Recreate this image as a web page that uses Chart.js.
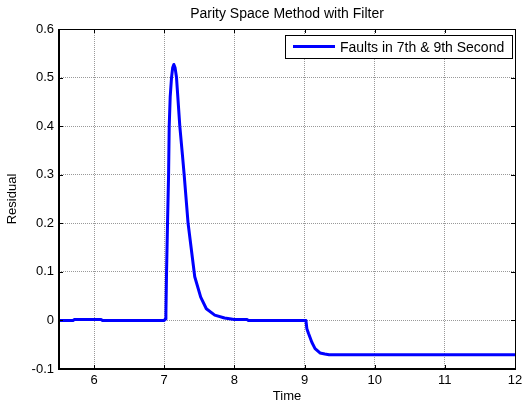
<!DOCTYPE html>
<html>
<head>
<meta charset="utf-8">
<title>Parity Space Method with Filter</title>
<script src="https://cdn.jsdelivr.net/npm/chart.js@4/dist/chart.umd.min.js"></script>
<style>
  body { margin: 0; background: #fff; }
  #wrap { width: 529px; height: 405px; }
</style>
</head>
<body>
<div id="wrap"><canvas id="residual-chart" width="529" height="405"></canvas></div>
<script>
// axis ticks
const xTicks = [6, 7, 8, 9, 10, 11, 12];
const yTicks = [-0.1, 0, 0.1, 0.2, 0.3, 0.4, 0.5, 0.6];

// residual signal (time in s)
const times = [5.5, 5.7, 5.72, 6.1, 6.12, 7.0, 7.014, 7.024, 7.033, 7.047, 7.062, 7.071, 7.085,
  7.104, 7.12, 7.137, 7.155, 7.175, 7.222, 7.26, 7.284, 7.34, 7.435, 7.52, 7.60, 7.72, 7.86,
  8.0, 8.18, 8.2, 9.0, 9.02, 9.033, 9.057, 9.104, 9.15, 9.22, 9.29, 9.35, 12];
const residual = [0, 0, 0.002, 0.002, 0, 0, 0.003, 0.014, 0.1, 0.2, 0.3, 0.4, 0.46,
  0.5, 0.52, 0.527, 0.52, 0.5, 0.4, 0.34, 0.3, 0.2, 0.09, 0.048, 0.024, 0.011, 0.005,
  0.002, 0.002, 0, 0, 0, -0.017, -0.027, -0.045, -0.058, -0.067, -0.069, -0.0705, -0.0705];

const FONT = "'Liberation Sans', Arial, sans-serif";
const GRID = '#999999';

// matlab style box, inward ticks, title and boxed legend
const matlabAxes = {
  id: 'matlabAxes',
  afterDraw(chart) {
    const ctx = chart.ctx;
    const a = chart.chartArea;
    const xs = chart.scales.x, ys = chart.scales.y;
    const tl = 4;
    ctx.save();
    ctx.strokeStyle = '#000';
    ctx.lineWidth = 1;
    ctx.beginPath();
    xTicks.forEach(v => {
      const px = Math.round(xs.getPixelForValue(v)) + 0.5;
      ctx.moveTo(px, a.bottom); ctx.lineTo(px, a.bottom - tl);
      ctx.moveTo(px, a.top); ctx.lineTo(px, a.top + tl);
    });
    yTicks.forEach(v => {
      const py = Math.round(ys.getPixelForValue(v)) + 0.5;
      ctx.moveTo(a.left, py); ctx.lineTo(a.left + tl, py);
      ctx.moveTo(a.right, py); ctx.lineTo(a.right - tl, py);
    });
    ctx.stroke();

    // top / right edges thin, left / bottom heavier
    ctx.beginPath();
    ctx.moveTo(a.left, a.top + 0.5); ctx.lineTo(a.right + 0.5, a.top + 0.5);
    ctx.lineTo(a.right + 0.5, a.bottom);
    ctx.stroke();
    ctx.lineWidth = 2;
    ctx.beginPath();
    ctx.moveTo(a.left, a.top); ctx.lineTo(a.left, a.bottom);
    ctx.lineTo(a.right + 1, a.bottom);
    ctx.stroke();

    // title
    ctx.fillStyle = '#000';
    ctx.font = '14px ' + FONT;
    ctx.textAlign = 'center';
    ctx.textBaseline = 'alphabetic';
    ctx.fillText('Parity Space Method with Filter', (a.left + a.right) / 2, 18);

    // legend
    const ds = chart.data.datasets[0];
    ctx.fillStyle = '#fff';
    ctx.fillRect(285, 35, 227, 23);
    ctx.lineWidth = 1;
    ctx.strokeStyle = '#000';
    ctx.strokeRect(285.5, 35.5, 227, 23);
    ctx.strokeStyle = ds.borderColor;
    ctx.lineWidth = ds.borderWidth;
    ctx.beginPath();
    ctx.moveTo(293, 46.5); ctx.lineTo(335, 46.5);
    ctx.stroke();
    ctx.fillStyle = '#000';
    ctx.textAlign = 'left';
    ctx.fillText(ds.label, 340, 52);
    ctx.restore();
  }
};

new Chart(document.getElementById('residual-chart'), {
  type: 'line',
  data: {
    datasets: [{
      label: 'Faults in 7th & 9th Second',
      data: times.map((t, i) => ({ x: t, y: residual[i] })),
      borderColor: '#0000ff',
      borderWidth: 3,
      pointRadius: 0,
      tension: 0,
      borderJoinStyle: 'round',
      fill: false
    }]
  },
  options: {
    responsive: false,
    animation: false,
    events: [],
    layout: { padding: { top: 29, right: 14, left: 0, bottom: 0 } },
    plugins: {
      legend: { display: false },
      title: { display: false },
      tooltip: { enabled: false }
    },
    scales: {
      x: {
        type: 'linear',
        min: 5.5,
        max: 12,
        afterBuildTicks: s => { s.ticks = xTicks.map(v => ({ value: v })); },
        afterFit: s => { s.height = 36; },
        ticks: { font: { family: FONT, size: 13 }, color: '#000', padding: 4, maxRotation: 0, autoSkip: false,
          callback: v => String(v) },
        grid: { color: GRID, lineWidth: 1, drawTicks: false, borderDash: [1, 1] },
        border: { display: false, dash: [1, 1] },
        title: { display: true, text: 'Time', color: '#000', font: { family: FONT, size: 13 },
          padding: { top: 0, bottom: 1 } }
      },
      y: {
        min: -0.1,
        max: 0.6,
        afterBuildTicks: s => { s.ticks = yTicks.map(v => ({ value: v })); },
        afterFit: s => { s.width = 59; },
        ticks: { font: { family: FONT, size: 13 }, color: '#000', padding: 5,
          callback: v => String(v) },
        grid: { color: GRID, lineWidth: 1, drawTicks: false, borderDash: [1, 1] },
        border: { display: false, dash: [1, 1] },
        title: { display: true, text: 'Residual', color: '#000', font: { family: FONT, size: 13 },
          padding: { top: 5, bottom: 0 } }
      }
    }
  },
  plugins: [matlabAxes]
});
</script>
</body>
</html>
